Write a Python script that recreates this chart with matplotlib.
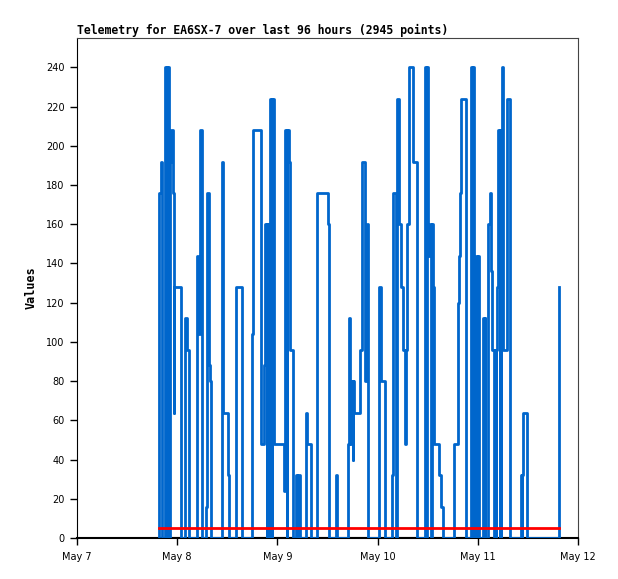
import datetime as dt
import matplotlib
matplotlib.use("Agg")
import matplotlib.pyplot as plt
import matplotlib.dates as mdates

# hours after May 7 00:00, value held until next point (step-post)
hours = [
    19.62, 19.71, 20.05, 20.29, 21.08, 21.44, 21.56, 22.04, 22.28, 22.51, 22.99,
    23.16, 23.31, 24.98, 25.87, 26.35, 26.83, 28.74, 29.05, 29.46, 29.94,
    30.90, 31.21, 31.54, 31.78, 32.02, 34.73, 35.04, 36.17, 36.48, 38.16,
    39.59, 41.99, 42.23, 44.00, 44.19, 44.79, 45.10, 45.39, 45.51, 45.92,
    46.23, 46.59, 46.71, 47.11, 49.65, 49.82, 50.18, 50.30, 50.71, 51.09,
    51.81, 52.45, 52.81, 52.93, 53.34, 54.85, 55.16, 55.97, 57.56, 60.05,
    60.43, 61.96, 62.16, 64.98, 65.22, 65.39, 65.80, 66.04, 66.19, 66.42,
    67.78, 68.19, 68.98, 69.39, 69.77, 72.41, 72.74, 73.77, 75.52, 75.76,
    76.33, 76.72, 77.05, 77.53, 78.01, 78.56, 78.80, 79.12, 79.59, 80.55,
    81.37, 83.35, 83.71, 83.83, 84.00, 84.55, 84.91, 85.03, 85.20, 85.58,
    86.78, 87.19, 87.66, 90.37, 91.33, 91.50, 91.74, 92.05, 93.17, 94.37,
    94.68, 94.78, 95.02, 95.57, 95.88, 95.98, 96.21, 97.25, 97.56, 97.63,
    97.80, 98.44, 98.92, 99.16, 99.47, 99.88, 100.04, 100.24, 100.36, 100.67,
    100.91, 101.20, 101.32, 101.51, 101.60, 101.80, 102.11, 102.99, 103.64, 106.35,
    106.59, 106.66, 106.89, 107.86, 115.33,
]
values = [
    0, 176, 192, 0, 240, 0, 240, 0, 192, 208, 176,
    64, 128, 0, 112, 96, 0, 144, 104, 208, 0,
    16, 176, 88, 80, 0, 192, 64, 32, 0, 128,
    0, 104, 208, 96, 48, 88, 160, 0, 160, 0,
    224, 0, 224, 48, 24, 208, 0, 208, 192, 96,
    0, 32, 0, 32, 0, 64, 48, 0, 176, 160,
    0, 32, 0, 48, 112, 48, 80, 40, 80, 64,
    96, 192, 80, 160, 0, 128, 80, 0, 32, 176,
    0, 224, 160, 128, 96, 48, 96, 160, 240, 192,
    0, 240, 0, 240, 144, 160, 0, 160, 128, 48,
    32, 16, 0, 48, 120, 144, 176, 224, 0, 240,
    0, 240, 0, 144, 0, 144, 0, 112, 0, 112,
    0, 160, 176, 136, 96, 0, 96, 0, 96, 128,
    208, 0, 208, 0, 208, 240, 96, 224, 0, 32,
    0, 32, 64, 0, 128,
]
limit_value = 5
zero_value = 0

base = dt.datetime(2024, 5, 7)
times = [base + dt.timedelta(hours=h) for h in hours]
span = [times[0], times[-1]]

fig = plt.figure(figsize=(6.18, 5.79), dpi=100)
ax = fig.add_axes([77 / 618, 41 / 579, 501 / 618, 500 / 579])

ax.plot(span, [zero_value, zero_value], color="black", linewidth=2.2, zorder=2)
ax.plot(times, values, drawstyle="steps-post", color="#0066cc", linewidth=2, zorder=3)
ax.plot([times[1], times[-1]], [limit_value, limit_value], color="#ff0000", linewidth=2, zorder=4)

ax.set_xlim(base, base + dt.timedelta(days=5))
ax.set_ylim(0, 255)
ax.set_yticks(range(0, 241, 20))
ax.xaxis.set_major_locator(mdates.DayLocator())
ax.xaxis.set_major_formatter(
    plt.FuncFormatter(lambda v, p: "%s %d" % (mdates.num2date(v).strftime("%b"), mdates.num2date(v).day))
)

ax.tick_params(direction="out", length=5, width=1, labelsize=7, colors="black", pad=4)
ax.tick_params(axis="x", pad=5)
for s in ["top", "right"]:
    ax.spines[s].set_color("#444444")
ax.spines["bottom"].set_linewidth(1.5)

ax.set_ylabel("Values", family="DejaVu Sans Mono", fontweight="bold", fontsize=8.5, labelpad=6)
ax.set_title("Telemetry for EA6SX-7 over last 96 hours (2945 points)",
             family="DejaVu Sans Mono", fontweight="bold", fontsize=8.3, loc="left", pad=3)

fig.savefig("out.png", dpi=100)
